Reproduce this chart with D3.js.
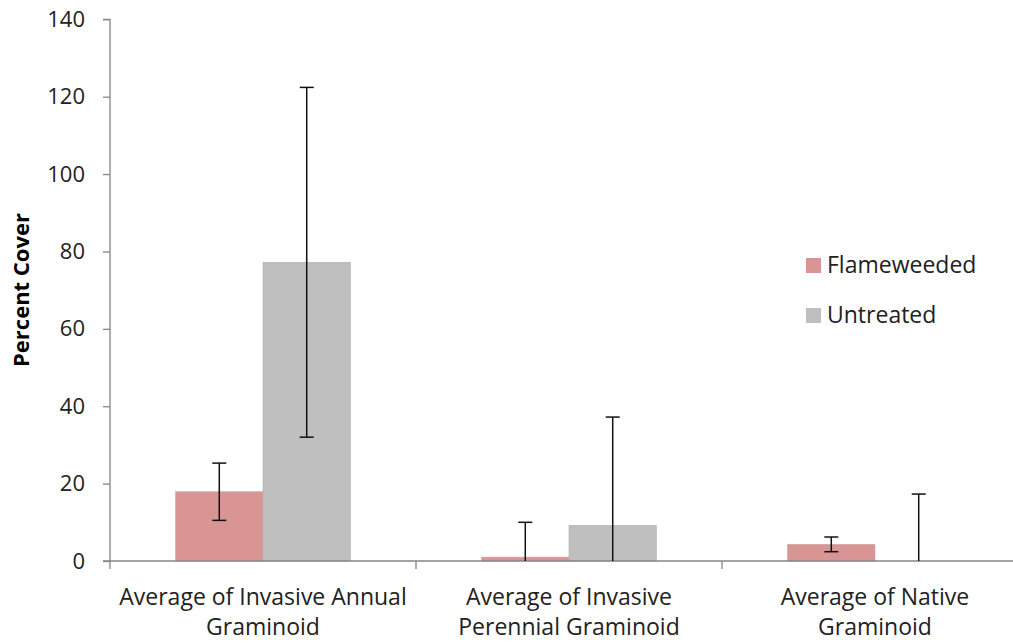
<!DOCTYPE html>
<html><head><meta charset="utf-8">
<script src="https://cdn.jsdelivr.net/npm/d3@7"></script>
<style>
body{margin:0;background:#fff;}
text{font-family:"Open Sans",sans-serif;}
</style></head>
<body><svg id="c" width="1013" height="643"></svg>
<script>
const categories = [["Average of Invasive Annual","Graminoid"],["Average of Invasive","Perennial Graminoid"],["Average of Native","Graminoid"]];
const seriesNames = ["Flameweeded","Untreated"];
const flameweeded = [17.9, 1.0, 4.3];
const untreated = [77.2, 9.2, 0];
const flameErr = [7.4, 9.0, 1.9];
const untreatedErr = [45.2, 28.0, 17.3];
const yTicks = [0,20,40,60,80,100,120,140];
const colors = ["#D99594","#BFBFBF"];

const svg = d3.select("#c");
const x0 = 110, x1 = 1028, yTop = 19.3, yBot = 561;
const y = d3.scaleLinear().domain([0,140]).range([yBot,yTop]);
const xb = d3.scaleBand().domain(d3.range(categories.length)).range([x0,x1]).paddingInner(0).paddingOuter(0);
const bw = xb.bandwidth();
const barW = bw/3.5;
const xs = d3.scaleBand().domain([0,1]).range([0, barW*2]);

// y axis
const yAxis = d3.axisLeft(y).tickValues(yTicks).tickSize(7).tickPadding(18);
const gy = svg.append("g").attr("transform",`translate(${x0},0)`).call(yAxis);
gy.select(".domain").attr("stroke","#868686").attr("stroke-width",1.3).attr("d",`M-7,${yTop}H0V${yBot}`);
gy.selectAll(".tick line").attr("stroke","#868686").attr("stroke-width",1.3);
gy.selectAll(".tick text").attr("font-size",22).attr("fill","#222").attr("font-family","Open Sans, sans-serif");

// bars
const data = [flameweeded, untreated];
const errs = [flameErr, untreatedErr];
categories.forEach((c,i)=>{
  const gx = xb(i) + (bw - barW*2)/2;
  [0,1].forEach(s=>{
    const v = data[s][i];
    const bx = gx + xs(s);
    if (v>0) svg.append("rect").attr("x",bx).attr("y",y(v)).attr("width",barW).attr("height",y(0)-y(v))
      .attr("fill",colors[s]).attr("stroke", s===0?"#cfa3a3":"#b0b0b0").attr("stroke-width",0.6);
  });
});

// x axis
const gxA = svg.append("g");
gxA.append("line").attr("x1",x0-7).attr("x2",1013).attr("y1",yBot).attr("y2",yBot).attr("stroke","#868686").attr("stroke-width",1.3);
[0,1,2].forEach(i=>{
  gxA.append("line").attr("x1",xb(i)).attr("x2",xb(i)).attr("y1",yBot).attr("y2",yBot+8).attr("stroke","#868686").attr("stroke-width",1.3);
});

// error bars
categories.forEach((c,i)=>{
  const gx = xb(i) + (bw - barW*2)/2;
  [0,1].forEach(s=>{
    const v = data[s][i], e = errs[s][i];
    const cx = gx + xs(s) + barW/2;
    const lo = Math.max(0, v-e), hi = v+e;
    const g = svg.append("g").attr("stroke","#111").attr("stroke-width",1.5);
    g.append("line").attr("x1",cx).attr("x2",cx).attr("y1",y(lo)).attr("y2",y(hi));
    g.append("line").attr("x1",cx-7).attr("x2",cx+7).attr("y1",y(hi)).attr("y2",y(hi));
    if (v-e>0) g.append("line").attr("x1",cx-7).attr("x2",cx+7).attr("y1",y(lo)).attr("y2",y(lo));
  });
});

// category labels
categories.forEach((c,i)=>{
  const t = svg.append("text").attr("x",xb(i)+bw/2).attr("text-anchor","middle").attr("font-size",23).attr("fill","#222");
  c.forEach((line,j)=>t.append("tspan").attr("x",xb(i)+bw/2).attr("y",605+j*30).text(line));
});

// y title
svg.append("text").attr("transform","translate(29,290) rotate(-90)").attr("text-anchor","middle")
  .attr("font-size",22).attr("font-weight","bold").attr("fill","#000").text("Percent Cover");

// legend
seriesNames.forEach((n,i)=>{
  const ly = 265 + i*50;
  svg.append("rect").attr("x",806).attr("y",ly-7).attr("width",15).attr("height",15).attr("fill",colors[i]);
  svg.append("text").attr("x",827).attr("y",ly+8).attr("font-size",23).attr("fill","#222").text(n);
});
</script></body></html>
